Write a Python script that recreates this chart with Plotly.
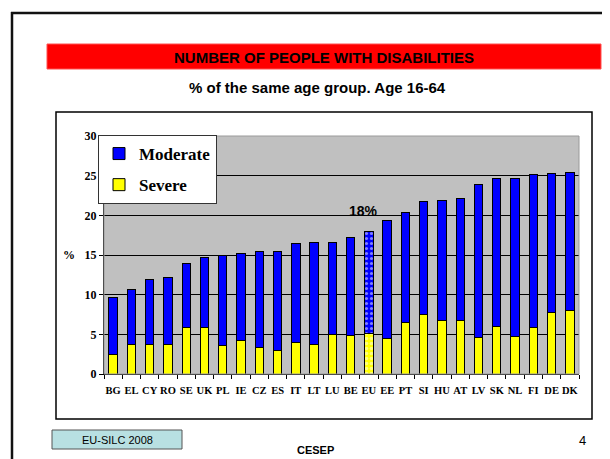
import plotly.graph_objects as go

countries = ["BG", "EL", "CY", "RO", "SE", "UK", "PL", "IE", "CZ", "ES", "IT", "LT", "LU",
             "BE", "EU", "EE", "PT", "SI", "HU", "AT", "LV", "SK", "NL", "FI", "DE", "DK"]
severe = [2.4, 3.7, 3.7, 3.7, 5.8, 5.8, 3.6, 4.2, 3.3, 3.0, 4.0, 3.7, 5.0,
          4.8, 5.1, 4.5, 6.5, 7.5, 6.7, 6.8, 4.6, 6.0, 4.7, 5.8, 7.8, 8.0]
moderate = [7.3, 6.9, 8.2, 8.5, 8.1, 8.9, 11.3, 11.0, 12.2, 12.5, 12.5, 12.9, 11.6,
            12.4, 12.8, 14.9, 13.8, 14.3, 15.2, 15.3, 19.3, 18.6, 19.9, 19.3, 17.5, 17.4]
y_ticks = [0, 5, 10, 15, 20, 25, 30]
highlight = "EU"

W, H = 610, 459
L, R, T, B = 96, 571, 128, 366


def px(x):
    return (x - L) / (R - L)


def py(y):
    return (B - y) / (B - T)


pat = ["." if c == highlight else "" for c in countries]

fig = go.Figure()
fig.add_trace(go.Bar(
    x=countries, y=severe, name="Severe", legendgroup="s", legendrank=2,
    marker=dict(color="#ffff00", line=dict(color="#000000", width=1),
                pattern=dict(shape=pat, fgcolor="#ffffff", size=5, solidity=0.4)),
))
fig.add_trace(go.Bar(
    x=countries, y=moderate, name="Moderate", legendgroup="m", legendrank=1,
    marker=dict(color="#0000ff", line=dict(color="#000000", width=1),
                pattern=dict(shape=pat, fgcolor="#ffffff", size=5, solidity=0.3)),
))

serif = "Liberation Serif"
sans = "Liberation Sans"

shapes = [
    # outer slide frame (left and top)
    dict(type="line", xref="paper", yref="paper", x0=px(4), x1=px(4), y0=py(4), y1=py(459),
         line=dict(color="#111111", width=2.5)),
    dict(type="line", xref="paper", yref="paper", x0=px(3), x1=px(610), y0=py(5), y1=py(5),
         line=dict(color="#111111", width=2.5)),
    # red title band
    dict(type="rect", xref="paper", yref="paper", x0=px(39), x1=px(593), y0=py(36), y1=py(61),
         fillcolor="#ff0000", line=dict(color="#ff5050", width=1)),
    # chart box
    dict(type="rect", xref="paper", yref="paper", x0=px(48), x1=px(584), y0=py(104), y1=py(411),
         line=dict(color="#000000", width=1.5)),
    # plot area outline
    dict(type="rect", xref="paper", yref="paper", x0=0, x1=1, y0=0, y1=1, layer="above",
         line=dict(color="#9a9a9a", width=1)),
    # EU-SILC box
    dict(type="rect", xref="paper", yref="paper", x0=px(44), x1=px(174), y0=py(422), y1=py(441),
         fillcolor="#b8e0e2", line=dict(color="#555555", width=1)),
]

annotations = [
    dict(text="<b>NUMBER OF PEOPLE WITH DISABILITIES</b>", x=px(316), y=py(49),
         font=dict(family=sans, size=15, color="#000000")),
    dict(text="<b>% of the same age group. Age 16-64</b>", x=px(309), y=py(79.5),
         font=dict(family=sans, size=15, color="#000000")),
    dict(text="%", x=px(61), y=py(247), font=dict(family=serif, size=12, color="#000000", weight="bold")),
    dict(text="<b>18%</b>", x=px(355), y=py(203), font=dict(family=sans, size=14, color="#000000")),
    dict(text="EU-SILC 2008", x=px(109), y=py(431.5), font=dict(family=sans, size=11, color="#000000")),
    dict(text="<b>CESEP</b>", x=px(307), y=py(442), font=dict(family=sans, size=11, color="#000000")),
    dict(text="4", x=px(574), y=py(432), font=dict(family=sans, size=13, color="#000000")),
]
for a in annotations:
    a.update(xref="paper", yref="paper", showarrow=False, xanchor="center", yanchor="middle")

fig.update_layout(
    width=W, height=H,
    margin=dict(l=L, r=W - R, t=T, b=H - B),
    paper_bgcolor="#ffffff",
    plot_bgcolor="#c0c0c0",
    barmode="stack",
    bargap=0.54,
    showlegend=True,
    legend=dict(
        x=px(90), y=py(127), xanchor="left", yanchor="top",
        bgcolor="#ffffff", bordercolor="#333333", borderwidth=1,
        font=dict(family=serif, size=17, color="#000000", weight="bold"),
        traceorder="grouped", tracegroupgap=6, itemwidth=30,
    ),
    xaxis=dict(
        type="category", showgrid=False, showline=True, linecolor="#000000", linewidth=1,
        ticks="outside", tickson="boundaries", ticklen=4, tickcolor="#000000",
        tickangle=0,
        tickfont=dict(family=serif, size=10.5, color="#000000", weight="bold"),
        ticklabelstandoff=6,
    ),
    yaxis=dict(
        range=[0, 30], tickvals=y_ticks, showgrid=True, gridcolor="#000000", gridwidth=1,
        zeroline=False, showline=True, linecolor="#000000", linewidth=1,
        ticks="outside", ticklen=4, tickcolor="#000000",
        tickfont=dict(family=serif, size=12, color="#000000", weight="bold"),
    ),
    shapes=shapes,
    annotations=annotations,
)

fig.write_html("out.html")
